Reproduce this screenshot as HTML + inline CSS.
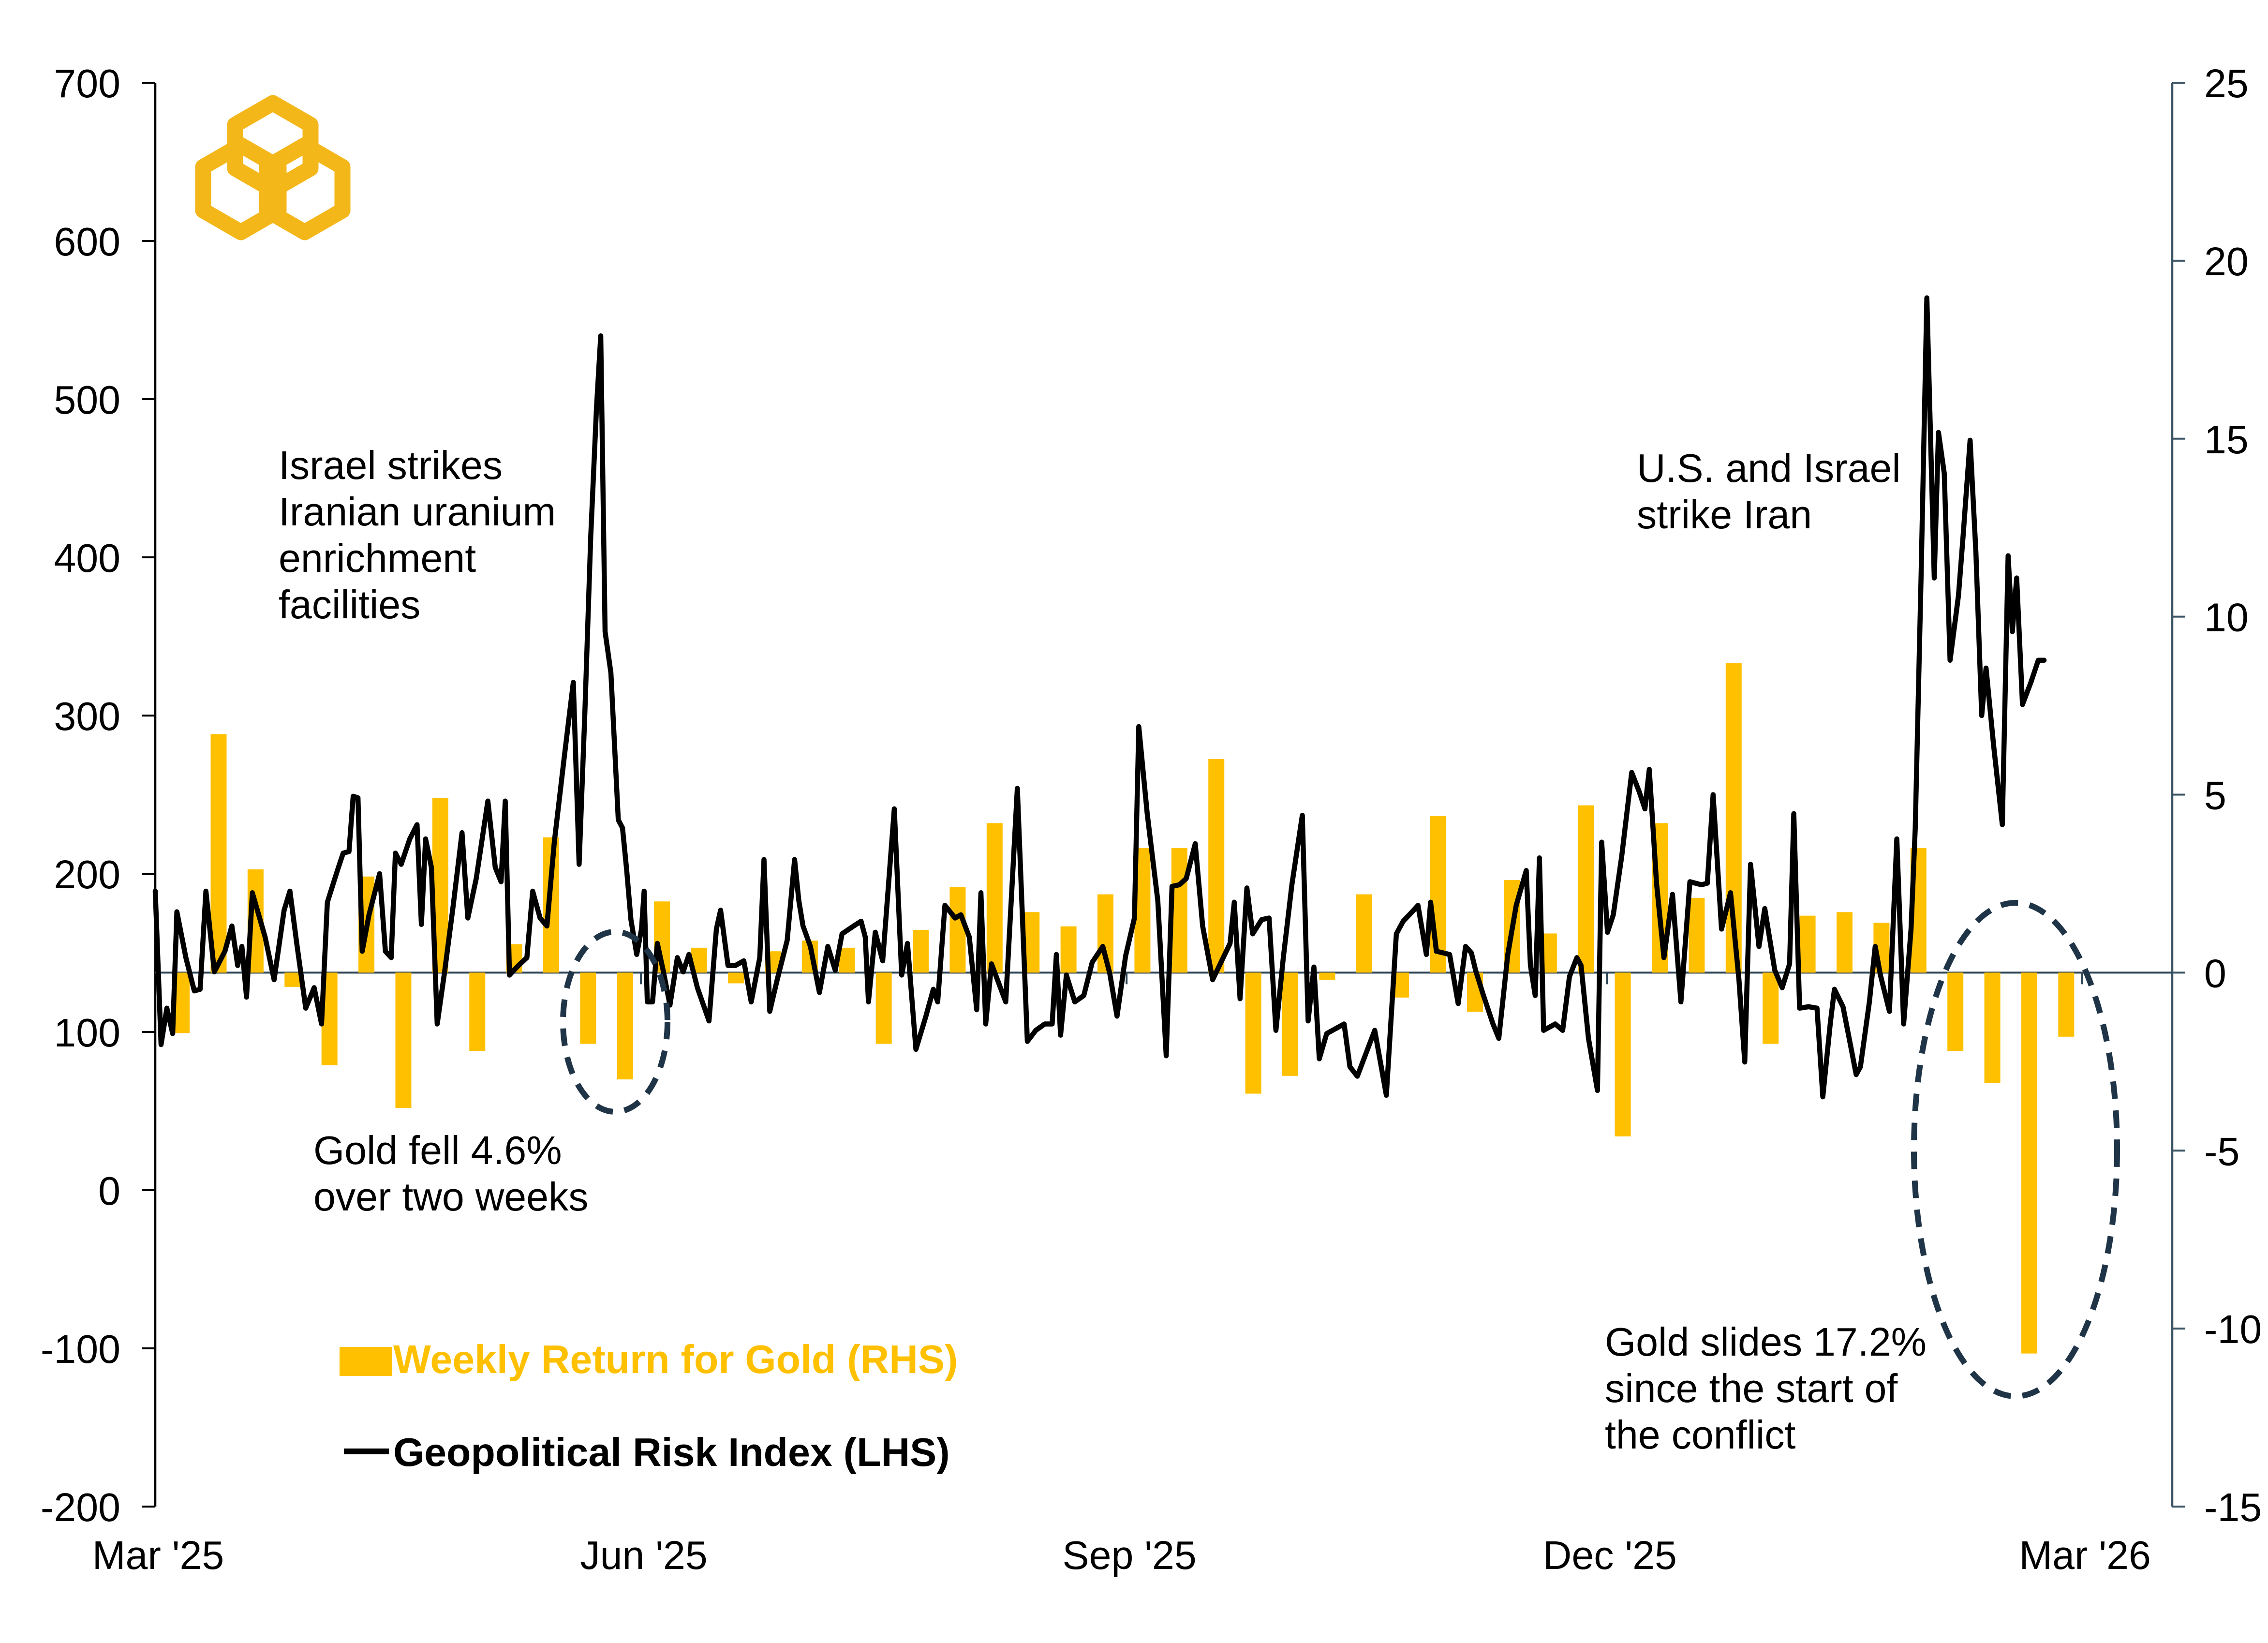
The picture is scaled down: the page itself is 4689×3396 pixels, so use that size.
<!DOCTYPE html>
<html><head><meta charset="utf-8"><style>
html,body{margin:0;padding:0;background:#fff;}
svg{display:block;}
text{font-family:"Liberation Sans",Arial,sans-serif;}
</style></head><body>
<svg id="chart" width="4689" height="3396" viewBox="0 0 1563 1132" xmlns="http://www.w3.org/2000/svg">
<rect width="1563" height="1132" fill="#fff"/>
<g id="logo" fill="none" stroke="#F4B719" stroke-width="11" stroke-linejoin="round">
<polygon points="188,71 214,86 214,116 188,131 162,116 162,86"/>
<polygon points="166,100 192,115 192,145 166,160 140,145 140,115"/>
<polygon points="210,100 236,115 236,145 210,160 184,145 184,115"/>
</g>
<g id="axes"></g>
<g id="bars"></g>
<g id="line"></g>
<g id="annot" font-size="27.5" fill="#000">
<text x="192" y="330"><tspan x="192">Israel strikes</tspan><tspan x="192" dy="32">Iranian uranium</tspan><tspan x="192" dy="32">enrichment</tspan><tspan x="192" dy="32">facilities</tspan></text>
<text x="1128" y="332"><tspan x="1128">U.S. and Israel</tspan><tspan x="1128" dy="32">strike Iran</tspan></text>
<text x="216" y="802"><tspan x="216">Gold fell 4.6%</tspan><tspan x="216" dy="32">over two weeks</tspan></text>
<text x="1106" y="934"><tspan x="1106">Gold slides 17.2%</tspan><tspan x="1106" dy="32">since the start of</tspan><tspan x="1106" dy="32">the conflict</tspan></text>
<ellipse cx="424" cy="704" rx="36" ry="62" fill="none" stroke="#1f3447" stroke-width="4" stroke-dasharray="12,8"/>
<ellipse cx="1389" cy="792" rx="70" ry="170" fill="none" stroke="#1f3447" stroke-width="4" stroke-dasharray="12,8"/>
</g>
<g id="legend">
<rect x="234" y="928" width="36" height="20" fill="#FFC000"/>
<text x="271" y="946" font-size="27.5" font-weight="bold" fill="#FFC000">Weekly Return for Gold (RHS)</text>
<line x1="237" y1="1000" x2="268" y2="1000" stroke="#000" stroke-width="4"/>
<text x="271" y="1010" font-size="27.5" font-weight="bold" fill="#000">Geopolitical Risk Index (LHS)</text>
</g>
</svg>
<script>
const leftTicks=[700,600,500,400,300,200,100,0,-100,-200];
const rightTicks=[25,20,15,10,5,0,-5,-10,-15];
const xLabels=["Mar '25","Jun '25","Sep '25","Dec '25","Mar '26"];
const xLabelDays=[0,92,184,275,365];
const gprDays=[0,1.1,2.2,3.3,4.1,5.8,7.4,8.5,9.6,11.2,13.2,14.5,15.6,16.4,17.3,18.4,20.8,22.5,24.4,25.5,26.8,28.5,30.1,31.5,32.6,34.5,35.6,36.7,37.5,38.4,39.2,40.5,42.5,43.6,44.7,45.5,46.6,48.2,49.6,50.4,51.2,52.3,53.4,54.8,56.4,58.1,59.2,60.8,63,64.4,65.5,66.3,67.1,68.8,70.4,71.5,72.9,74.2,75.6,77.5,79.2,80.3,81.4,82.5,83.6,84.4,85.2,86.3,87.7,88.5,89.3,90.1,91.2,92.1,92.6,93.2,94.2,95.1,96.2,97.5,98.9,100,101.1,102.7,104.9,106.3,107.1,108.5,109.9,111.5,112.9,114.5,115.3,116.4,117.8,119.7,121.1,121.9,122.7,124.1,125.8,127.4,128.8,130.1,132.3,133.7,134.5,135.1,136.4,137.8,140,141.4,142.5,144.1,146,147.4,148.2,149.6,151.5,152.6,154.2,155.6,156.4,157.3,158.4,161.1,163.3,165.2,166.8,168.5,169.9,170.7,171.5,172.6,174.2,175.9,177.5,179.5,180.8,182.2,183.8,185.5,186.3,187.9,189.9,191.5,192.6,194,195.3,197,198.4,200.3,201.6,203.6,204.4,205.5,206.8,207.9,209.6,211,212.3,213.7,215.3,217.3,218.4,219.5,220.5,221.9,225.2,226.3,227.7,231,233.2,235.1,236.4,238.1,239.2,240.8,241.6,242.7,245.2,246.8,248.2,249.3,250.1,251.5,253.4,254.5,256.2,257.8,259.7,260.5,261.4,262.2,263,265.2,266.6,267.9,269.3,270.1,271.5,273.2,274,275.1,276.2,277.8,279.7,281.1,282.2,283,284.4,285.8,287.4,289,290.7,292.9,294,295.1,296.7,298.4,300,301.1,302.2,303.8,304.9,306.8,308.2,309.6,310.4,311.5,313.2,314.8,315.9,317.3,318.1,319.7,321.1,322.2,323,324.7,325.8,326.8,328.5,329.9,331.2,332.6,333.4,334.5,335.6,337,337.8,338.9,340,341.6,342.5,343.8,344.9,346,346.8,348.2,349.9,351,351.8,352.6,353.7,355.3,356.7,357.8];
const gprValues=[189,92,115,99,176,147,126,127,189,138,151,167,142,154,122,188,160,133,177,189,156,115,128,105,182,202,213,214,249,248,151,174,200,151,147,213,206,222,231,168,222,204,105,138,179,226,172,197,246,204,195,246,136,142,147,189,172,167,220,274,321,206,303,413,495,540,353,327,234,229,202,171,149,165,189,119,119,156,139,117,147,138,149,128,107,165,177,142,142,145,119,147,209,113,133,158,209,183,167,154,125,154,139,162,167,170,160,119,163,145,241,136,156,89,110,127,119,180,172,174,160,114,188,105,143,119,254,94,101,105,105,149,98,136,119,123,144,154,137,110,148,172,293,238,183,85,192,193,197,219,167,133,142,156,182,121,191,162,171,172,101,147,193,237,107,141,83,99,105,78,72,101,60,162,170,176,180,149,182,151,149,118,154,150,139,124,105,96,149,180,202,142,123,210,101,105,101,135,147,142,96,63,220,163,174,211,264,252,241,266,194,147,187,119,195,193,194,250,165,188,133,81,206,154,178,139,128,143,238,115,116,115,59,105,127,116,92,73,78,119,154,136,113,222,105,165,229,387,564,387,479,453,335,376,415,474,403,300,330,282,231,401,353,387,307,321,335,335];
const goldReturns=[-1.7,6.7,2.9,-0.4,-2.6,2.7,-3.8,4.9,-2.2,0.8,3.8,-2.0,-3.0,2.0,0.7,-0.3,0.6,0.9,0.7,-2.0,1.2,2.4,4.2,1.7,1.3,2.2,3.5,3.5,6.0,-3.4,-2.9,-0.2,2.2,-0.7,4.4,-1.1,2.6,1.1,4.7,-4.6,4.2,2.1,8.7,-2.0,1.6,1.7,1.4,3.5,-2.2,-3.1,-10.7,-1.8];
const barFirstDay=5, barStepDays=7;

const NS="http://www.w3.org/2000/svg";
const X0=107,X1=1497,DAYPX=3.638;
const xS=d=>X0+d*DAYPX;
const yL=v=>57+(700-v)*(1038-57)/900;
const yR=v=>57+(25-v)*(1038-57)/40;
function mk(tag,attrs,parent){const e=document.createElementNS(NS,tag);for(const k in attrs)e.setAttribute(k,attrs[k]);parent.appendChild(e);return e;}
const axes=document.getElementById('axes');
let e;
e=mk('line',{x1:X0,y1:57,x2:X0,y2:1038,stroke:'#000','stroke-width':1.5},axes);


e=mk('line',{x1:X1,y1:57,x2:X1,y2:1038,stroke:'#3b5566','stroke-width':1.5},axes);


e=mk('line',{x1:X0,y1:yR(0),x2:X1,y2:yR(0),stroke:'#2f4656','stroke-width':1.3},axes);


leftTicks.forEach(v=>{
 mk('line',{x1:X0-9,y1:yL(v),x2:X0,y2:yL(v),stroke:'#000','stroke-width':1.3},axes);
 const t=mk('text',{x:83,y:yL(v)+10,'text-anchor':'end','font-size':27.5},axes);t.textContent=v;
 
 
});
rightTicks.forEach(v=>{
 mk('line',{x1:X1,y1:yR(v),x2:X1+9,y2:yR(v),stroke:'#3b5566','stroke-width':1.3},axes);
 const t=mk('text',{x:1519,y:yR(v)+10,'font-size':27.5},axes);t.textContent=v;
 
 
});
xLabels.forEach((l,i)=>{
 const x=xS(xLabelDays[i]);
 if(i>0) mk('line',{x1:x,y1:yR(0),x2:x,y2:yR(0)+8,stroke:'#2f4656','stroke-width':1.3},axes);
 const t=mk('text',{x:x+2,y:1081,'text-anchor':'middle','font-size':27.5},axes);t.textContent=l;
 
 
});
const bars=document.getElementById('bars');
goldReturns.forEach((v,i)=>{
 const cx=xS(barFirstDay+i*barStepDays);
 const y0=yR(0),y1=yR(v);
 const r=mk('rect',{x:cx-5.5,y:Math.min(y0,y1),width:11,height:Math.abs(y1-y0),fill:'#FFC000'},bars);
 
 
});
const lg=document.getElementById('line');
const p=mk('polyline',{points:gprDays.map((d,i)=>xS(d).toFixed(1)+','+yL(gprValues[i]).toFixed(1)).join(' '),fill:'none',stroke:'#000','stroke-width':3.5,'stroke-linejoin':'round','stroke-linecap':'round'},lg);


</script>
</body></html>
